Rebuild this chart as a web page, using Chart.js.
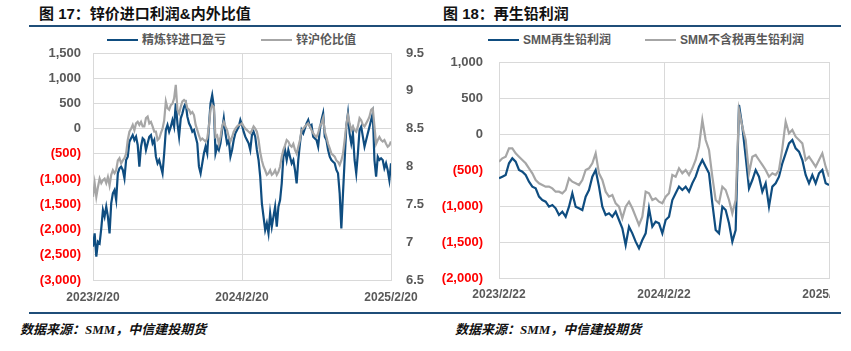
<!DOCTYPE html>
<html>
<head>
    <meta charset="utf-8">
    <title>锌价进口利润 & 再生铅利润</title>
    <script src="https://cdn.jsdelivr.net/npm/chart.js"></script>
    <style>
        body { margin: 0; width: 851px; height: 351px; position: relative; background: #fff; overflow: hidden;
               font-family: "Liberation Sans", "Noto Sans CJK SC", sans-serif; }
        .title { position: absolute; top: 2px; font-size: 15px; font-weight: bold; color: #111; white-space: nowrap; }
        .rule { position: absolute; left: 29px; width: 812px; height: 2px; background: #1f4e79; }
        .key { position: absolute; top: 33px; font-size: 12px; font-weight: bold; color: #595959; white-space: nowrap; line-height: 14px; }
        .key i { display: inline-block; width: 31px; height: 2px; vertical-align: middle; margin-right: 4px; position: relative; top: -1px; }
        .src { position: absolute; top: 319px; font-size: 13px; font-weight: bold; font-style: italic; color: #111;
               font-family: "Liberation Serif", "Noto Sans CJK SC", serif; white-space: nowrap; }
    </style>
</head>
<body>
<div class="title" style="left:39px;">图 17：锌价进口利润&amp;内外比值</div>
<div class="title" style="left:443px;">图 18：再生铅利润</div>
<div class="rule" style="top:25px;"></div>

<div class="key" style="left:107px;"><i style="background:#0f4d80"></i>精炼锌进口盈亏</div>
<div class="key" style="left:261px;"><i style="background:#a6a6a6"></i>锌沪伦比值</div>
<div class="key" style="left:488px;"><i style="background:#0f4d80"></i>SMM再生铅利润</div>
<div class="key" style="left:645px;"><i style="background:#a6a6a6"></i>SMM不含税再生铅利润</div>

<div style="position:absolute;left:30px;top:30px;width:400px;height:280px;">
    <canvas id="zincChart" width="400" height="280"></canvas>
</div>
<div style="position:absolute;left:430px;top:30px;width:400px;height:280px;overflow:hidden;">
    <canvas id="leadChart" width="460" height="280"></canvas>
</div>

<div class="rule" style="top:312px;"></div>
<div class="src" style="left:20px;">数据来源：SMM，中信建投期货</div>
<div class="src" style="left:455px;">数据来源：SMM，中信建投期货</div>

<script>
    // 图17: 2023/2/20 - 2025/2/20
    const zincTickLabels = ['2023/2/20', '2024/2/20', '2025/2/20'];
    const zincImportProfit = [
        -2340,-2075,-2537,-2240,-2273,-1976,-1612,-1744,-1546,-1744,
        -2075,-1480,-1282,-1216,-1414,-885,-786,-753,-819,-984,
        -621,-555,-258,-192,-126,-225,-159,-324,-753,-357,
        -192,-225,-423,-291,-159,-126,-291,-225,-555,-687,
        -621,-753,-885,-489,-26,73,-60,40,172,40,
        502,106,-159,205,304,436,502,238,106,40,
        -60,-26,-159,-291,-753,-885,-687,-489,-357,-489,
        40,502,667,436,-489,-357,-423,-291,-26,205,
        -93,-291,-225,-555,-423,-225,-93,-26,40,172,
        73,-60,-159,-225,-291,-423,-126,-60,-159,-423,
        -621,-951,-1480,-1744,-2009,-1876,-2075,-1678,-1943,-1744,
        -1546,-1943,-1546,-1414,-1084,-555,-423,-621,-423,-555,
        -687,-621,-819,-1084,-621,-291,-26,-93,7,106,
        172,40,73,-159,-192,-225,-357,-26,172,304,
        -159,-225,-423,-555,-621,-654,-687,-819,-885,-1282,
        -1976,-1282,-621,40,304,-93,-291,-93,-621,-885,
        -489,-26,40,-159,-357,-225,-93,40,172,304,
        -621,-951,-555,-621,-588,-621,-786,-687,-819,-1018,
        -687
    ];
    const zincRatio = [
        7.60,7.78,7.60,7.73,7.84,7.78,7.82,7.84,7.78,7.86,
        7.75,7.89,7.95,7.91,7.95,8.08,8.11,8.04,8.08,8.11,
        8.17,8.35,8.46,8.50,8.55,8.48,8.57,8.59,8.55,8.59,
        8.53,8.53,8.64,8.66,8.57,8.59,8.53,8.46,8.46,8.35,
        8.37,8.44,8.50,8.61,8.86,8.77,8.75,8.81,8.83,8.90,
        9.08,8.75,8.70,8.79,8.86,8.88,8.86,8.77,8.75,8.70,
        8.72,8.68,8.55,8.48,8.41,8.35,8.37,8.35,8.33,8.37,
        8.53,8.75,8.81,8.79,8.39,8.41,8.30,8.39,8.53,8.59,
        8.53,8.48,8.39,8.33,8.39,8.46,8.50,8.53,8.55,8.55,
        8.57,8.53,8.50,8.48,8.46,8.44,8.48,8.53,8.50,8.46,
        8.35,8.19,8.08,8.00,7.95,7.89,7.91,7.95,7.89,7.91,
        7.95,7.89,7.93,8.00,8.13,8.22,8.28,8.35,8.33,8.28,
        8.26,8.30,8.22,8.17,8.26,8.35,8.48,8.50,8.53,8.55,
        8.57,8.53,8.48,8.44,8.41,8.39,8.44,8.53,8.57,8.64,
        8.46,8.39,8.30,8.24,8.17,8.15,8.13,8.08,8.06,8.02,
        8.08,8.17,8.35,8.55,8.68,8.57,8.48,8.53,8.48,8.46,
        8.53,8.64,8.61,8.55,8.53,8.57,8.61,8.66,8.75,8.77,
        8.53,8.30,8.35,8.39,8.35,8.33,8.35,8.30,8.26,8.28,
        8.33
    ];

    // 图18: 2023/2/22 - 2025/2/22
    const leadTickLabels = ['2023/2/22', '2024/2/22', '2025/2/22'];
    const leadProfit = [
        -616,-593,-569,-407,-338,-384,-500,-523,-569,-662,
        -731,-755,-870,-917,-940,-1009,-986,-1032,-1125,-1079,
        -1148,-1009,-824,-1009,-1032,-1056,-870,-778,-593,-500,
        -731,-1009,-1125,-1102,-1148,-1079,-1194,-1310,-1542,-1287,
        -1380,-1495,-1588,-1472,-1380,-1032,-1287,-1218,-1241,-1380,
        -1194,-1148,-917,-824,-731,-778,-731,-801,-685,-593,
        -454,-361,-454,-546,-963,-1333,-1380,-1009,-1056,-1241,
        -1495,-1333,403,102,-315,-755,-639,-500,-593,-801,
        -685,-1009,-731,-685,-593,-407,-268,-130,-83,-199,
        -245,-361,-569,-685,-569,-685,-546,-500,-685,-708
    ];
    const leadProfitExTax = [
        -384,-338,-315,-199,-199,-268,-315,-361,-407,-477,
        -546,-639,-685,-708,-731,-731,-755,-801,-801,-824,
        -778,-616,-662,-685,-708,-639,-500,-477,-407,-268,
        -546,-639,-801,-870,-847,-963,-1009,-1171,-1009,-940,
        -1032,-1148,-1264,-1148,-801,-824,-917,-893,-940,-963,
        -870,-824,-569,-593,-477,-546,-500,-569,-477,-361,
        -176,195,-83,-222,-593,-917,-963,-731,-778,-917,
        -1102,-917,334,102,-83,-546,-315,-292,-361,-430,
        -500,-593,-546,-569,-500,-199,171,9,56,-37,
        -83,-130,-361,-315,-384,-454,-361,-268,-454,-593
    ];

    const BLUE = '#0f4d80';
    const GREY = '#a6a6a6';
    const GRID = '#d9d9d9';
    const TEXT = '#595959';

    Chart.defaults.font.family = '"Liberation Sans", "Noto Sans CJK SC", sans-serif';
    Chart.defaults.font.weight = 'bold';

    function money(v) {
        const s = Math.abs(v).toLocaleString('en-US');
        return v < 0 ? '(' + s + ')' : s;
    }
    const redNeg = c => c.tick.value < 0 ? '#ff0000' : TEXT;
    const pts = arr => arr.map((v, i) => ({ x: i, y: v }));

    new Chart(document.getElementById('zincChart'), {
        type: 'line',
        data: {
            datasets: [
                { label: '锌沪伦比值', data: pts(zincRatio), yAxisID: 'y1', borderColor: GREY, borderWidth: 2.2, pointRadius: 0, tension: 0 },
                { label: '精炼锌进口盈亏', data: pts(zincImportProfit), yAxisID: 'y', borderColor: BLUE, borderWidth: 2.2, pointRadius: 0, tension: 0 }
            ]
        },
        options: {
            responsive: false,
            animation: false,
            layout: { padding: { top: 23, bottom: 0, left: 0, right: 0 } },
            plugins: { legend: { display: false }, tooltip: { enabled: false } },
            scales: {
                x: {
                    type: 'linear', min: 0, max: zincImportProfit.length - 1,
                    grid: { color: GRID, drawTicks: false },
                    border: { color: GRID },
                    ticks: { stepSize: 90, maxRotation: 0, padding: 10, color: TEXT, font: { size: 12 },
                             callback: v => zincTickLabels[Math.round(v / 90)] },
                    afterFit: s => { s.height = 30; }
                },
                y: {
                    position: 'left', min: -3000, max: 1500,
                    grid: { color: GRID, drawTicks: false },
                    border: { color: GRID },
                    ticks: { stepSize: 500, padding: 12, color: redNeg, font: { size: 13 }, callback: money },
                    afterFit: s => { s.width = 63; }
                },
                y1: {
                    position: 'right', min: 6.5, max: 9.5,
                    grid: { drawOnChartArea: false, drawTicks: false },
                    border: { color: GRID },
                    ticks: { stepSize: 0.5, padding: 15, color: TEXT, font: { size: 13 }, callback: v => String(v) },
                    afterFit: s => { s.width = 39; }
                }
            }
        }
    });

    const leadStep = (leadProfit.length - 1) / 2;
    new Chart(document.getElementById('leadChart'), {
        type: 'line',
        data: {
            datasets: [
                { label: 'SMM不含税再生铅利润', data: pts(leadProfitExTax), borderColor: GREY, borderWidth: 2.2, pointRadius: 0, tension: 0 },
                { label: 'SMM再生铅利润', data: pts(leadProfit), borderColor: BLUE, borderWidth: 2.2, pointRadius: 0, tension: 0 }
            ]
        },
        options: {
            responsive: false,
            animation: false,
            layout: { padding: { top: 32, bottom: 0, left: 0, right: 61 } },
            plugins: { legend: { display: false }, tooltip: { enabled: false } },
            scales: {
                x: {
                    type: 'linear', min: 0, max: leadProfit.length - 1,
                    grid: { color: GRID, drawTicks: false },
                    border: { color: GRID },
                    ticks: { stepSize: leadStep, maxRotation: 0, padding: 9, color: TEXT, font: { size: 12 },
                             callback: v => leadTickLabels[Math.round(v / leadStep)] },
                    afterFit: s => { s.height = 32; }
                },
                y: {
                    min: -2000, max: 1000,
                    grid: { color: GRID, drawTicks: false },
                    border: { color: GRID },
                    ticks: { stepSize: 500, padding: 16, color: redNeg, font: { size: 13 }, callback: money },
                    afterFit: s => { s.width = 69; }
                }
            }
        }
    });
</script>
</body>
</html>
